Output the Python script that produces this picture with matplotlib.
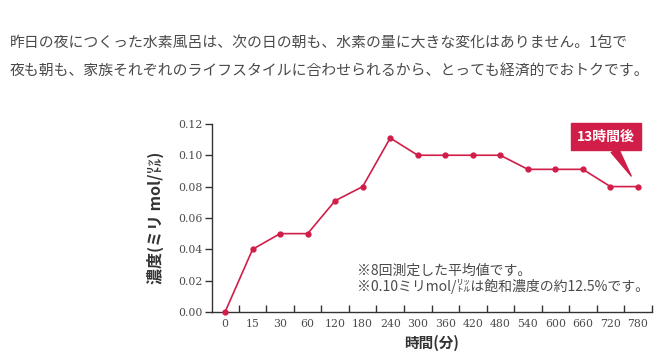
import matplotlib.pyplot as plt

plt.rcParams['font.family'] = ['Noto Sans CJK JP', 'DejaVu Sans']

minutes = ['0', '15', '30', '60', '120', '180', '240', '300', '360',
           '420', '480', '540', '600', '660', '720', '780']
conc = [0.0, 0.04, 0.05, 0.05, 0.071, 0.08, 0.111, 0.10, 0.10,
        0.10, 0.10, 0.091, 0.091, 0.091, 0.08, 0.08]
yticks = [0.00, 0.02, 0.04, 0.06, 0.08, 0.10, 0.12]

red = '#d01e48'
grey = '#4a4a4a'

fig = plt.figure(figsize=(6.65, 3.57), dpi=100)

# intro text above the chart
fig.text(0.015, 0.88, '昨日の夜につくった水素風呂は、次の日の朝も、水素の量に大きな変化はありません。1包で',
         fontsize=10.7, color=grey, va='center')
fig.text(0.015, 0.802, '夜も朝も、家族それぞれのライフスタイルに合わせられるから、とっても経済的でおトクです。',
         fontsize=10.7, color=grey, va='center')

ax = fig.add_axes([0.319, 0.126, 0.661, 0.527])
x = list(range(len(minutes)))
ax.plot(x, conc, color=red, lw=1.2, marker='o', ms=3.5, clip_on=False, zorder=3)

ax.set_xlim(-0.47, len(minutes) - 0.5)
ax.set_ylim(0, 0.12)
ax.set_xticks(x)
ax.set_xticklabels(minutes)
ax.set_xticks([i + 0.5 for i in x], minor=True)
ax.tick_params(axis='x', which='major', length=0, pad=5, labelsize=7.8, labelcolor=grey)
ax.tick_params(axis='x', which='minor', direction='in', length=5, width=1, color='#333333')
ax.set_yticks(yticks)
ax.set_yticklabels(['%.2f' % v for v in yticks])
ax.tick_params(axis='y', length=5, width=1, color='#333333', labelsize=7.8, labelcolor=grey, pad=2)
for t in ax.get_xticklabels() + ax.get_yticklabels():
    t.set_family(['DejaVu Serif'])

for s in ['top', 'right']:
    ax.spines[s].set_visible(False)
for s in ['left', 'bottom']:
    ax.spines[s].set_color('#333333')
    ax.spines[s].set_linewidth(1)

ax.set_ylabel('濃度(ミリ mol/㍑)', fontsize=11.5, fontweight='bold', color='#333333', labelpad=10)
ax.set_xlabel('時間(分)', fontsize=10.5, fontweight='bold', color='#333333', labelpad=4)

ax.text(0.33, 0.22, '※8回測定した平均値です。', transform=ax.transAxes,
        fontsize=10, color=grey, va='center')
ax.text(0.33, 0.135, '※0.10ミリmol/㍑は飽和濃度の約12.5%です。', transform=ax.transAxes,
        fontsize=10, color=grey, va='center')

ax.annotate('13時間後', xy=(x[-1], conc[-1]), xytext=(-23, 36), textcoords='offset points',
            ha='center', va='center', fontsize=10, fontweight='bold', color='white',
            bbox=dict(boxstyle='square,pad=0.45', fc=red, ec=red),
            arrowprops=dict(arrowstyle='wedge,tail_width=0.6', fc=red, ec=red,
                            shrinkA=0, shrinkB=9))

fig.savefig('out.png', dpi=100)
